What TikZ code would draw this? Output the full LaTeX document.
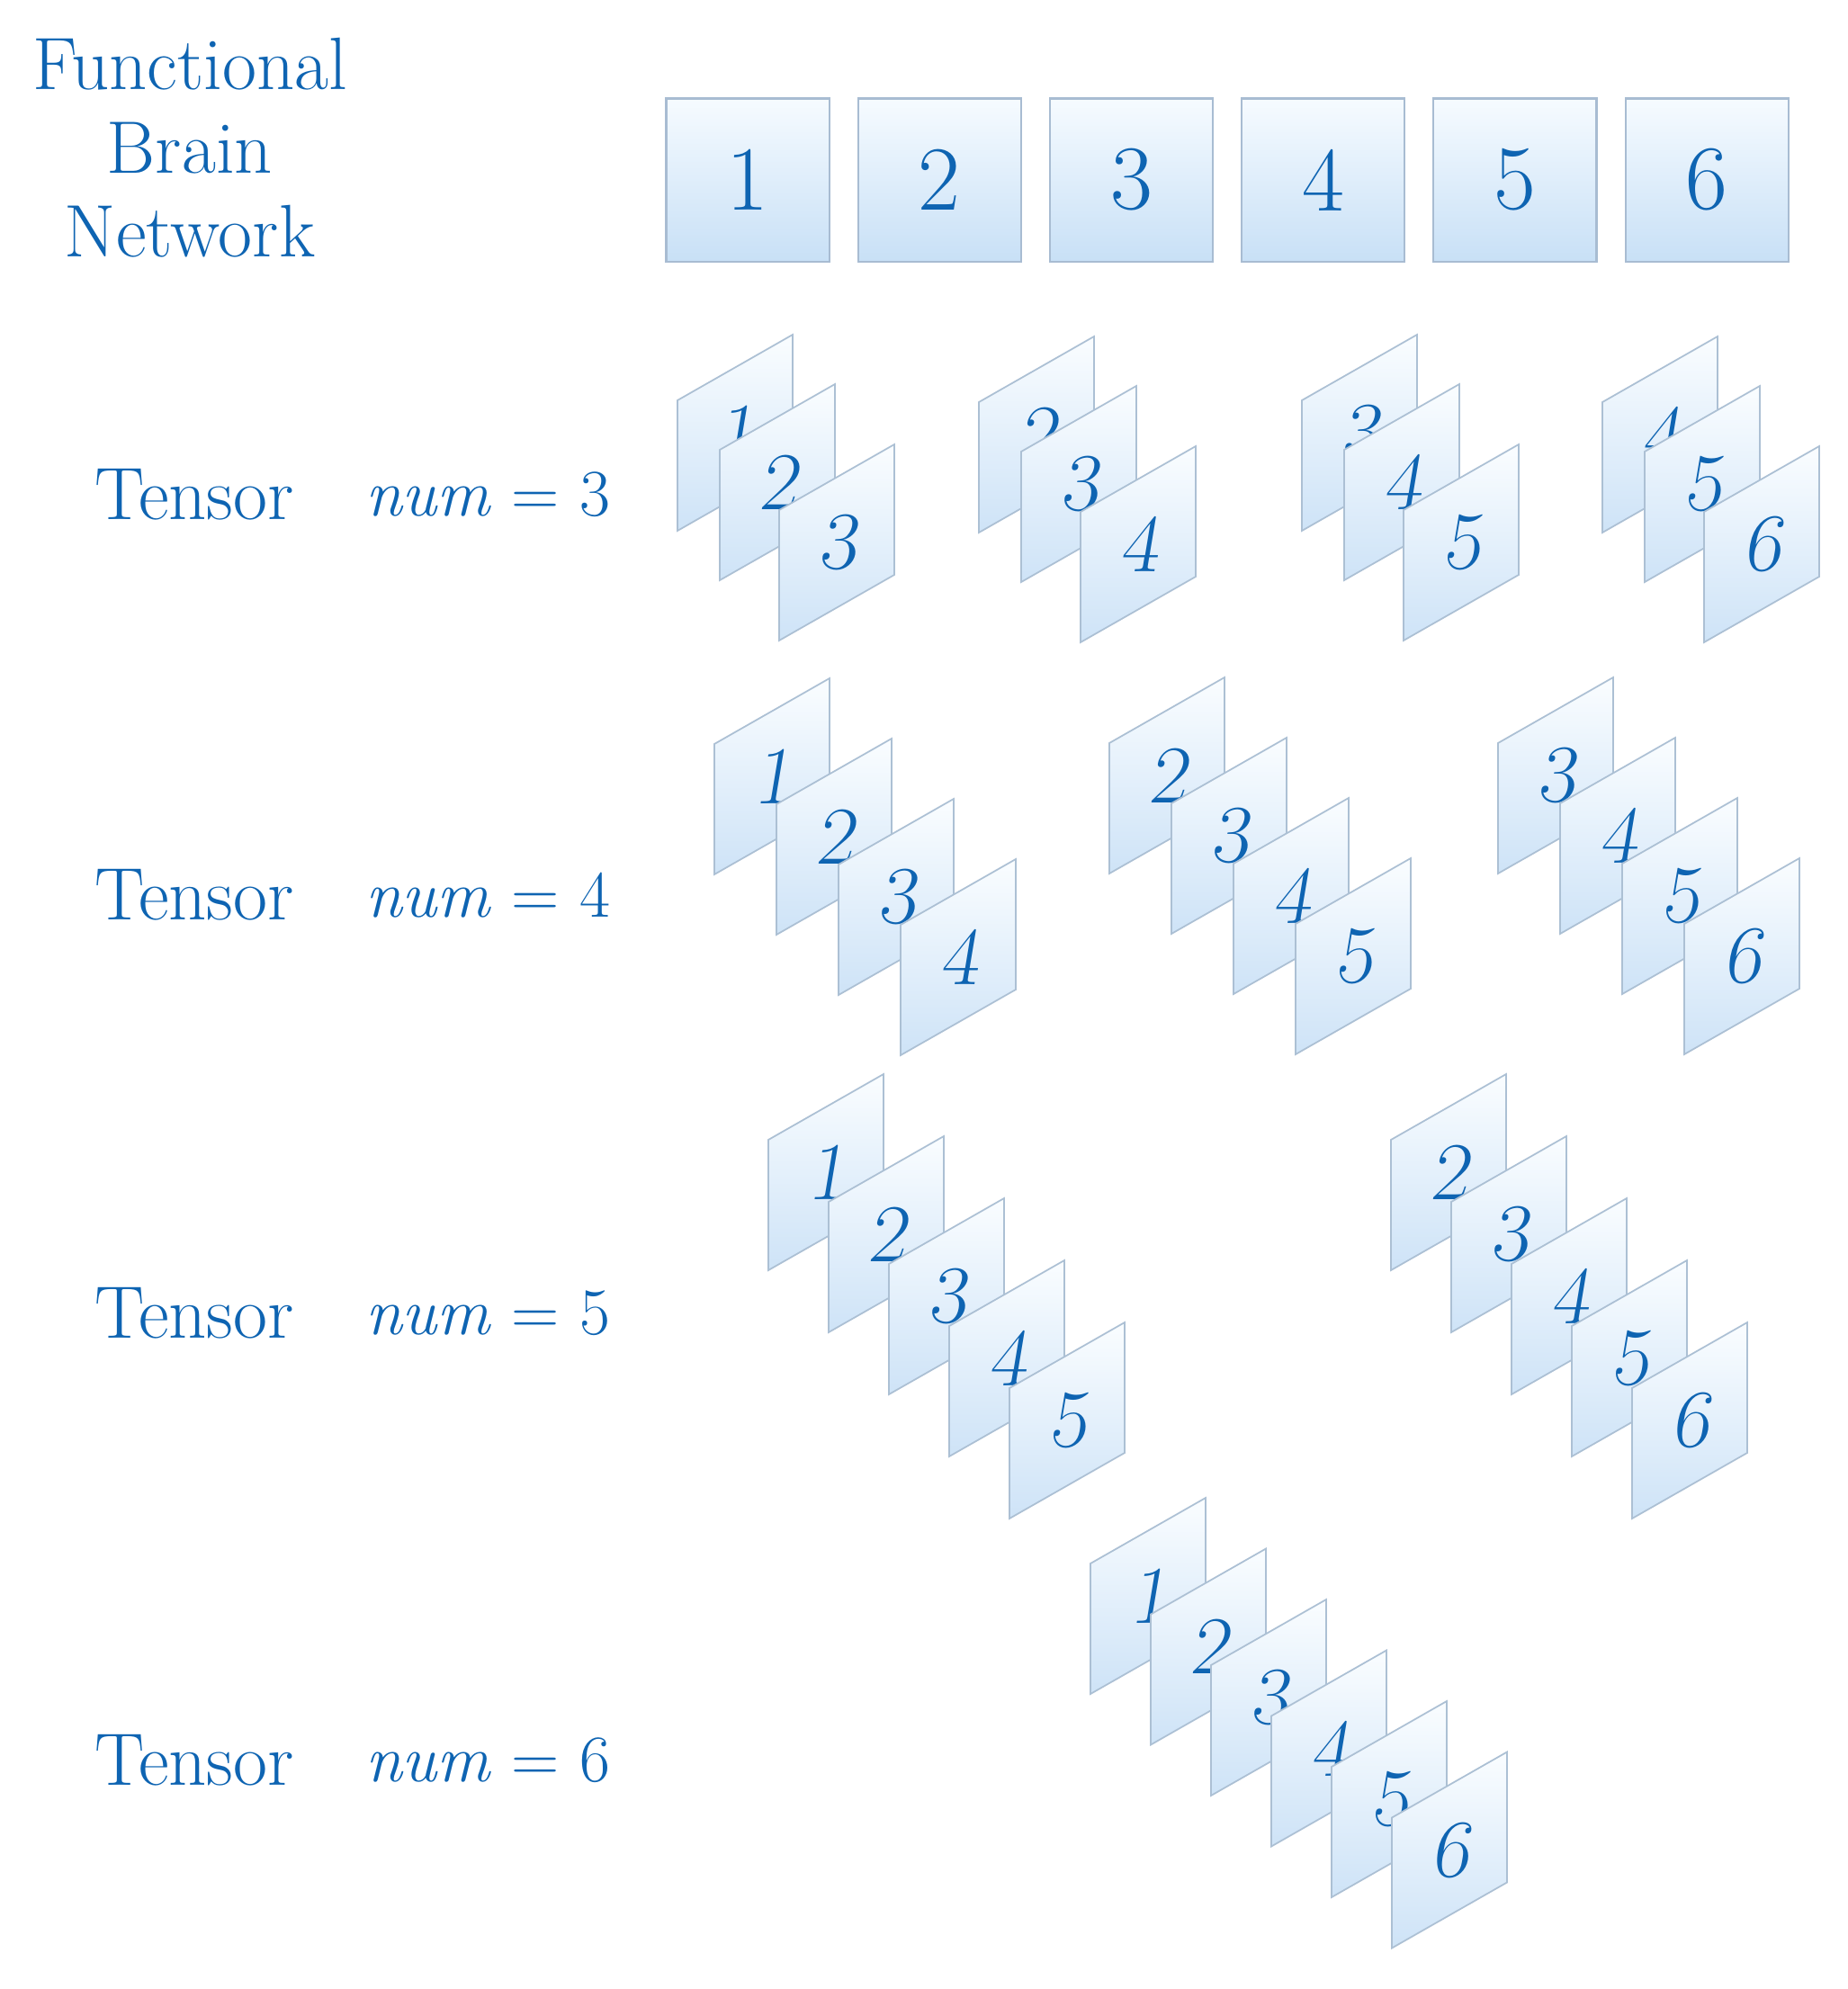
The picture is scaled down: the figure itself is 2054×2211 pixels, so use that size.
\documentclass[tikz,border=0pt]{standalone}
\usetikzlibrary{positioning}

\definecolor{labelblue}{RGB}{14,100,178}
\definecolor{boxedge}{RGB}{168,188,210}
\definecolor{boxtop}{RGB}{246,251,255}
\definecolor{boxmid}{RGB}{196,222,244}
\definecolor{boxbot}{RGB}{200,224,246}
\definecolor{sheetedge}{RGB}{172,192,212}
\definecolor{sheettop}{RGB}{250,253,255}
\definecolor{sheetmid}{RGB}{214,232,249}
\definecolor{sheetbot}{RGB}{206,227,247}

% one slice of a tensor: name, top-left corner x, y, number
\newcommand\sheet[4]{%
  \path[sheetface] (#2,#3) -- ++(128,-73) -- ++(0,145) -- ++(-128,73) -- cycle;
  \node[sheetnum] (#1) at (#2+64,#3+36) {#4};}

\begin{document}
\begin{tikzpicture}[x=0.01cm,y=-0.01cm]
    \tikzset{netbox/.style={draw=boxedge, line width=0.6pt, minimum size=1.81cm, inner sep=0pt,
        top color=boxtop, middle color=boxmid, bottom color=boxbot,
        text=labelblue, font=\fontsize{29}{29}\selectfont},
      sheetface/.style={draw=sheetedge, line width=0.5pt,
        top color=sheettop, middle color=sheetmid, bottom color=sheetbot},
      sheetnum/.style={inner sep=0pt, text=labelblue, font=\fontsize{26}{26}\selectfont\slshape},
      rowlabel/.style={inner sep=0pt, text=labelblue, font=\fontsize{23.5}{26.5}\selectfont},
      numlabel/.style={inner sep=0pt, text=labelblue, font=\fontsize{21}{26}\selectfont}
    }
    \useasboundingbox (0,0) rectangle (2054,2211);

    \node[rowlabel, align=center] (fbn) at (211,164) {Functional\\Brain\\Network};

    \node[netbox] (b1) at (831,200) {1};
    \foreach \i [count=\j] in {2,...,6}
      \node[netbox, right=0.3cm of b\j] (b\i) {\i};

    \foreach \m/\y in {3/550, 4/995, 5/1460, 6/1957} {
      \node[rowlabel] (t\m) at (216,\y) {Tensor};
      \node[numlabel, right=0.78cm of t\m] (n\m) {\textit{num} = \m};
    }

    % num = 3
    \foreach \gx/\gy/\f [count=\g] in {753/445/1, 1088/447/2, 1447/445/3, 1781/447/4}
      \foreach \dx/\dy [count=\k from 0] in {0/0, 47/55, 113/122} {
        \pgfmathtruncatemacro\n{\f+\k}
        \sheet{a\g\k}{\gx+\dx}{\gy+\dy}{\n}
      }

    % num = 4
    \foreach \gx/\gy/\f [count=\g] in {794/827/1, 1233/826/2, 1665/826/3}
      \foreach \k in {0,...,3} {
        \pgfmathtruncatemacro\n{\f+\k}
        \sheet{b\g\k}{\gx+69*\k}{\gy+67*\k}{\n}
      }

    % num = 5
    \foreach \gx/\gy/\f [count=\g] in {854/1267/1, 1546/1267/2}
      \foreach \k in {0,...,4} {
        \pgfmathtruncatemacro\n{\f+\k}
        \sheet{c\g\k}{\gx+67*\k}{\gy+69*\k}{\n}
      }

    % num = 6
    \foreach \k in {0,...,5} {
      \pgfmathtruncatemacro\n{1+\k}
      \sheet{d1\k}{1212+67*\k}{1738+56.5*\k}{\n}
    }
\end{tikzpicture}
\end{document}
